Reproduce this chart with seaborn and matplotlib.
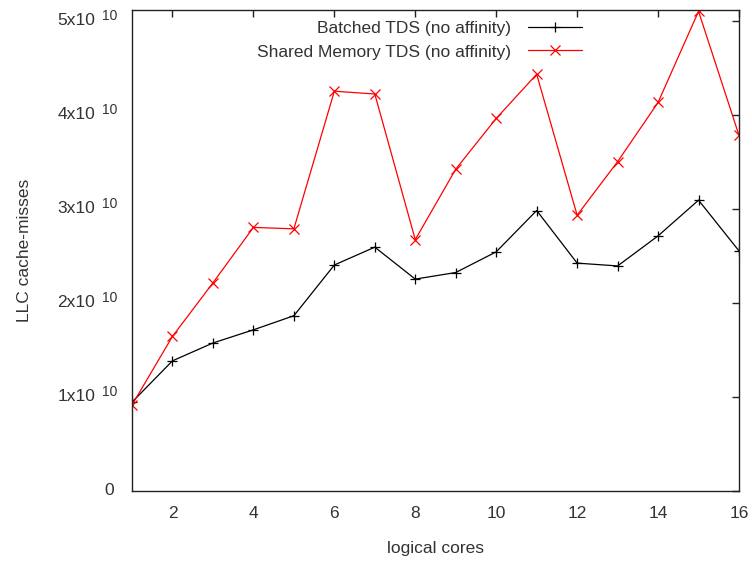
import matplotlib
matplotlib.use("Agg")
import matplotlib.pyplot as plt
import seaborn as sns
import pandas as pd
from matplotlib.lines import Line2D

cores = list(range(1, 17))
batched = [0.94e10, 1.38e10, 1.57e10, 1.71e10, 1.86e10, 2.40e10, 2.59e10, 2.25e10,
           2.32e10, 2.54e10, 2.98e10, 2.42e10, 2.39e10, 2.71e10, 3.09e10, 2.55e10]
shared = [0.91e10, 1.64e10, 2.21e10, 2.80e10, 2.785e10, 4.25e10, 4.22e10, 2.67e10,
          3.42e10, 3.96e10, 4.43e10, 2.93e10, 3.50e10, 4.13e10, 5.10e10, 3.78e10]
series_names = ["Batched TDS (no affinity)", "Shared Memory TDS (no affinity)"]
series_colors = ["black", "red"]
series_markers = ["+", "x"]
xticks = [2, 4, 6, 8, 10, 12, 14, 16]
yticks = [0, 1e10, 2e10, 3e10, 4e10, 5e10]
ytick_mantissa = ["0", "1x10", "2x10", "3x10", "4x10", "5x10"]
ytick_exponent = ["", "10", "10", "10", "10", "10"]

df = pd.DataFrame({
    "cores": cores * 2,
    "misses": batched + shared,
    "series": [series_names[0]] * len(cores) + [series_names[1]] * len(cores),
})

sns.set_theme(style="white")
plt.rcParams["font.family"] = ["Liberation Sans", "DejaVu Sans"]

text_color = "#333333"
fs = 12.5

fig = plt.figure(figsize=(7.52, 5.61), dpi=100)
ax = fig.add_axes([132 / 752, 1 - 490.5 / 561, 607 / 752, 480.5 / 561])

for name, col, mk in zip(series_names, series_colors, series_markers):
    sns.lineplot(data=df[df["series"] == name], x="cores", y="misses",
                 color=col, marker=mk, markersize=7, markeredgewidth=0.9,
                 markeredgecolor=col, linewidth=0.9, ax=ax, legend=False)

ax.set_xlim(1, 16)
ax.set_ylim(0, 5.114e10)
ax.set_xticks(xticks)
ax.set_xticklabels([str(t) for t in xticks])
ax.set_yticks(yticks)
ax.set_yticklabels([])
ax.tick_params(direction="in", length=5, width=1, colors="#222222",
               labelcolor=text_color, labelsize=fs, top=True, right=True,
               labeltop=False, labelright=False)
ax.tick_params(axis="x", pad=11)
for s in ax.spines.values():
    s.set_color("#222222")
    s.set_linewidth(1.0)

# y tick labels written as mantissa with a raised exponent
ytrans = ax.get_yaxis_transform()
for val, man, ex in zip(yticks, ytick_mantissa, ytick_exponent):
    if ex:
        ax.annotate(man, xy=(0, val), xycoords=ytrans, xytext=(-26.5, 0),
                    textcoords="offset points", ha="right", va="center",
                    fontsize=fs, color=text_color)
        ax.annotate(ex, xy=(0, val), xycoords=ytrans, xytext=(-10.5, 3.3),
                    textcoords="offset points", ha="right", va="center",
                    fontsize=fs * 0.8, color=text_color)
    else:
        ax.annotate(man, xy=(0, val), xycoords=ytrans, xytext=(-13, 0),
                    textcoords="offset points", ha="right", va="center",
                    fontsize=fs, color=text_color)

ax.set_xlabel("logical cores", fontsize=fs, color=text_color)
ax.set_ylabel("LLC cache-misses", fontsize=fs, color=text_color)
ax.xaxis.set_label_coords(0.5, -0.105)
ax.yaxis.set_label_coords(-0.165, 0.5)

handles = [Line2D([], [], color=c, marker=m, markersize=7, markeredgewidth=0.9,
                  linewidth=0.9)
           for c, m in zip(series_colors, series_markers)]
leg = ax.legend(handles, series_names, loc="upper right",
                bbox_to_anchor=(0.741, 0.978), frameon=False, markerfirst=False,
                handlelength=3.1, fontsize=fs, labelspacing=0.5,
                handletextpad=1.0, borderaxespad=0, borderpad=0)
for t in leg.get_texts():
    t.set_color(text_color)

fig.savefig("out.png", dpi=100)
